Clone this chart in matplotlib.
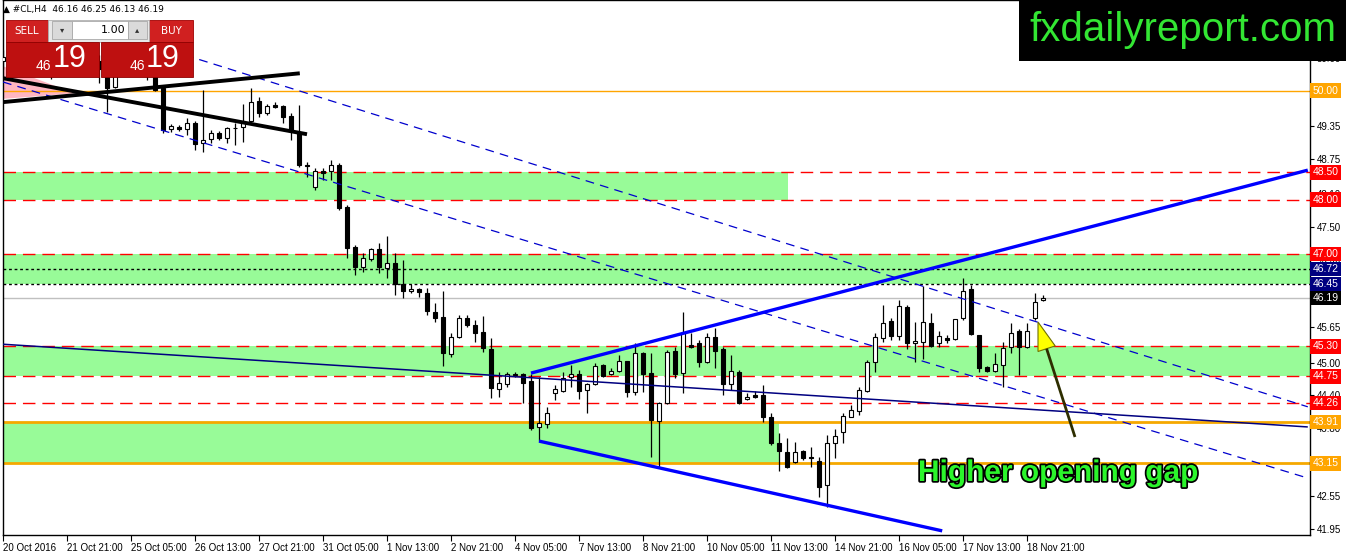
import matplotlib
matplotlib.use("Agg")
import matplotlib.pyplot as plt
from matplotlib.patches import Rectangle, Polygon
import matplotlib.patheffects as pe

# ---------------- data (H4 candles of #CL) ----------------
opens = [50.55, 50.62, 50.70, 50.88, 50.78, 50.62, 50.45, 50.55, 50.72, 50.60,
         50.68, 50.90, 50.55, 50.40, 50.07, 50.38, 50.55, 50.70, 50.48, 50.40,
         50.05, 49.30, 49.33, 49.30, 49.41, 49.04, 49.12, 49.23, 49.13, 49.32,
         49.33, 49.44, 49.81, 49.59, 49.74, 49.72, 49.54, 49.24, 48.64, 48.23,
         48.53, 48.53, 48.64, 47.87, 47.13, 46.76, 46.91, 47.09, 46.74, 46.84,
         46.45, 46.32, 46.36, 46.28, 45.93, 45.84, 45.16, 45.48, 45.82, 45.70,
         45.57, 45.26, 44.52, 44.61, 44.79, 44.80, 44.67, 43.82, 43.88, 44.45,
         44.48, 44.74, 44.80, 44.50, 44.61, 44.96, 44.80, 44.85, 45.03, 44.46,
         45.18, 44.81, 43.93, 44.26, 45.22, 44.81, 45.33, 45.36, 45.02, 45.48,
         45.26, 44.61, 44.83, 44.34, 44.41, 44.41, 44.01, 43.53, 43.36, 43.18,
         43.38, 43.26, 43.20, 42.76, 43.53, 43.73, 44.01, 44.12, 44.48, 45.02,
         45.46, 45.77, 45.49, 46.03, 45.37, 45.38, 45.73, 45.37, 45.46, 45.44,
         45.82, 46.36, 45.51, 44.92, 44.85, 44.96, 45.29, 45.59, 45.29, 45.82,
         46.16]
highs = [50.75, 50.80, 50.95, 51.05, 50.90, 50.70, 50.60, 50.78, 50.85, 50.75,
         50.95, 51.00, 50.65, 50.50, 50.45, 50.65, 50.80, 50.85, 50.60, 50.52,
         50.10, 49.39, 49.37, 49.50, 49.45, 50.02, 49.28, 49.26, 49.34, 49.41,
         49.75, 50.05, 49.89, 49.76, 49.79, 49.74, 49.59, 49.74, 48.69, 48.58,
         48.58, 48.73, 48.67, 47.90, 47.17, 47.02, 47.11, 47.20, 47.33, 47.02,
         46.89, 46.45, 46.38, 46.38, 46.10, 46.32, 45.55, 45.88, 45.88, 45.79,
         45.86, 45.46, 44.83, 44.83, 44.83, 44.81, 44.80, 44.74, 44.19, 44.59,
         44.83, 44.96, 44.87, 44.63, 44.99, 44.98, 44.91, 45.14, 45.04, 45.37,
         45.19, 45.18, 44.27, 45.24, 45.29, 45.94, 45.55, 45.42, 45.55, 45.64,
         45.29, 45.14, 44.87, 44.45, 44.48, 44.59, 44.08, 43.71, 43.62, 43.55,
         43.40, 43.45, 43.27, 43.67, 43.79, 44.08, 44.23, 44.56, 45.05, 45.55,
         46.06, 45.82, 46.16, 46.06, 45.75, 46.41, 45.92, 45.59, 45.51, 45.81,
         46.56, 46.43, 45.51, 44.94, 45.18, 45.38, 45.73, 45.62, 45.73, 46.28,
         46.25]
lows = [50.40, 50.50, 50.60, 50.70, 50.55, 50.35, 50.22, 50.48, 50.55, 50.45,
        50.60, 50.50, 50.15, 49.61, 50.05, 50.30, 50.45, 50.40, 50.20, 50.00,
        49.23, 49.24, 49.26, 49.19, 48.91, 48.88, 49.04, 49.10, 49.04, 49.00,
        49.06, 49.43, 49.52, 49.56, 49.68, 49.41, 49.10, 48.60, 48.42, 48.18,
        48.36, 48.36, 47.81, 46.93, 46.62, 46.67, 46.87, 46.65, 46.56, 46.25,
        46.19, 46.28, 46.21, 45.88, 45.75, 44.94, 45.11, 45.46, 45.66, 45.38,
        45.20, 44.35, 44.37, 44.56, 44.74, 44.26, 43.77, 43.56, 43.80, 44.32,
        44.46, 44.56, 44.34, 44.08, 44.59, 44.74, 44.78, 44.83, 44.37, 44.41,
        44.46, 43.27, 43.09, 44.24, 44.72, 44.45, 45.27, 44.92, 45.00, 44.91,
        44.41, 44.50, 44.24, 44.32, 44.35, 43.91, 43.49, 43.01, 43.07, 43.16,
        43.21, 43.09, 42.53, 42.35, 43.25, 43.53, 44.00, 44.04, 44.46, 44.83,
        45.38, 45.42, 45.42, 45.26, 45.02, 45.07, 45.29, 45.29, 45.37, 45.42,
        45.79, 45.51, 44.83, 44.83, 44.83, 44.56, 45.18, 44.78, 45.27, 45.79,
        46.13]
closes = [50.62, 50.70, 50.88, 50.78, 50.62, 50.45, 50.55, 50.72, 50.60, 50.68,
          50.90, 50.55, 50.40, 50.05, 50.38, 50.55, 50.70, 50.48, 50.40, 50.02,
          49.28, 49.35, 49.30, 49.41, 49.02, 49.10, 49.23, 49.13, 49.32, 49.31,
          49.42, 49.79, 49.59, 49.72, 49.70, 49.52, 49.28, 48.64, 48.62, 48.53,
          48.49, 48.64, 47.85, 47.11, 46.76, 46.93, 47.09, 46.76, 46.84, 46.45,
          46.32, 46.36, 46.30, 45.95, 45.82, 45.18, 45.48, 45.82, 45.70, 45.55,
          45.27, 44.54, 44.63, 44.80, 44.78, 44.63, 43.80, 43.89, 44.08, 44.52,
          44.72, 44.80, 44.48, 44.61, 44.94, 44.76, 44.85, 45.03, 44.46, 45.18,
          44.80, 43.95, 44.26, 45.20, 44.80, 45.55, 45.29, 45.02, 45.48, 45.22,
          44.61, 44.85, 44.26, 44.37, 44.37, 44.01, 43.53, 43.38, 43.09, 43.36,
          43.25, 43.25, 42.72, 43.53, 43.66, 44.02, 44.13, 44.50, 45.02, 45.48,
          45.73, 45.49, 46.05, 45.37, 45.40, 45.75, 45.31, 45.49, 45.42, 45.81,
          46.32, 45.53, 44.91, 44.85, 44.98, 45.27, 45.55, 45.29, 45.59, 46.12,
          46.19]

date_labels = ['20 Oct 2016', '21 Oct 21:00', '25 Oct 05:00', '26 Oct 13:00',
               '27 Oct 21:00', '31 Oct 05:00', '1 Nov 13:00', '2 Nov 21:00',
               '4 Nov 05:00', '7 Nov 13:00', '8 Nov 21:00', '10 Nov 05:00',
               '11 Nov 13:00', '14 Nov 21:00', '16 Nov 05:00', '17 Nov 13:00',
               '18 Nov 21:00']
bars_per_label = 8
price_ticks = [41.95, 42.55, 43.15, 43.80, 44.40, 45.00, 45.65, 46.25,
               46.90, 47.50, 48.10, 48.75, 49.35, 50.00, 50.60]
hidden_tick_labels = [50.00, 43.15]   # fully covered by level labels

# horizontal levels
red_levels = [48.50, 48.00, 47.00, 45.30, 44.75, 44.26]
dotted_levels = [46.72, 46.45]
current_price = 46.19
orange_thin = [50.00]
orange_thick = [43.91, 43.15]
# green zones: (low, high, first bar, last bar or None = to right edge)
zones = [(48.00, 48.50, 0, 98.1), (46.45, 47.00, 0, None),
         (44.75, 45.30, 0, None), (43.15, 43.91, 0, 97.0)]
# price labels on the axis
axis_labels = [(50.00, '#FFA500'), (48.50, '#FF0000'), (48.00, '#FF0000'),
               (47.00, '#FF0000'), (46.72, '#000080'), (46.45, '#000080'),
               (46.19, '#000000'), (45.30, '#FF0000'), (44.75, '#FF0000'),
               (44.26, '#FF0000'), (43.91, '#FFA500'), (43.15, '#FFA500')]

# trend lines as (bar index, price) pairs
dash_line_a = [(12.0, 51.15), (163.1, 44.19)]
dash_line_b = [(0.0, 50.16), (163.1, 42.88)]
solid_line_c = [(0.0, 45.34), (163.1, 43.82)]
channel_up = [(66.0, 44.81), (163.1, 48.54)]
channel_low = [(67.0, 43.56), (117.4, 41.91)]
black_up = [(0.0, 49.79), (37.1, 50.32)]
black_down = [(0.0, 50.23), (38.0, 49.20)]
pink_tri = [(0.0, 50.45), (0.0, 49.85), (9.0, 49.95)]

AXFONT = 'Liberation Sans'

# ---------------- figure ----------------
W, H = 1350, 554
fig = plt.figure(figsize=(W / 100, H / 100), dpi=100)
PX_L, PX_R, PX_T, PX_B = 3, 1310, 0, 535
ax = fig.add_axes([PX_L / W, 1 - PX_B / H, (PX_R - PX_L) / W, (PX_B - PX_T) / H])
ax.set_xlim(0, (PX_R - PX_L) / 8.0)
ax.set_ylim(41.834, 51.667)
ax.set_facecolor('white')

GREEN = '#98FB98'
for lo, hi, x0, x1 in zones:
    if x1 is None:
        ax.axhspan(lo, hi, color=GREEN, lw=0, zorder=0.5)
    else:
        ax.fill_between([x0, x1], lo, hi, color=GREEN, lw=0, zorder=0.5)

ax.add_patch(Polygon(pink_tri, closed=True, fc='#FFB6C1', ec='none', zorder=0.6))

for lv in red_levels:
    ax.axhline(lv, color='#FF0000', lw=1.0, ls=(0, (9, 5)), zorder=1)
for lv in dotted_levels:
    ax.axhline(lv, color='black', lw=1.0, ls=(0, (2, 2)), zorder=1)
ax.axhline(current_price, color='#C0C0C0', lw=1.0, zorder=1)
for lv in orange_thin:
    ax.axhline(lv, color='#FFA500', lw=1.0, zorder=1)
for lv in orange_thick:
    ax.axhline(lv, color='#F5A800', lw=2.0, zorder=1)

# candles
idx = list(range(len(opens)))
ax.vlines(idx, lows, highs, color='black', lw=0.9, zorder=3)
bottoms = [min(o, c) for o, c in zip(opens, closes)]
heights = [max(abs(c - o), 0.004) for o, c in zip(opens, closes)]
faces = ['white' if c >= o else 'black' for o, c in zip(opens, closes)]
ax.bar(idx, heights, bottom=bottoms, width=0.62, color=faces,
       edgecolor='black', linewidth=0.8, zorder=4)

def seg(pts, **kw):
    ax.plot([p[0] for p in pts], [p[1] for p in pts], solid_capstyle='butt', **kw)

seg(dash_line_a, color='#0000CD', lw=0.9, ls=(0, (7, 5)), zorder=5)
seg(dash_line_b, color='#0000CD', lw=0.9, ls=(0, (7, 5)), zorder=5)
seg(solid_line_c, color='#000080', lw=1.1, zorder=5)
seg(channel_up, color='#0000FF', lw=2.4, zorder=5)
seg(channel_low, color='#0000FF', lw=2.4, zorder=5)
seg(black_up, color='black', lw=2.8, zorder=5)
seg(black_down, color='black', lw=2.8, zorder=5)

# axes styling
for s in ax.spines.values():
    s.set_color('black')
    s.set_linewidth(1.0)
ax.yaxis.tick_right()
ax.set_yticks(price_ticks)
ax.set_yticklabels(['' if t in hidden_tick_labels else '%.2f' % t for t in price_ticks],
                   family=AXFONT)
ax.tick_params(axis='y', right=True, left=False, length=3, width=0.8,
               labelsize=7, pad=2, colors='black')
ax.set_xticks([bars_per_label * k for k in range(len(date_labels))])
ax.set_xticklabels(date_labels, family=AXFONT)
for lab in ax.get_xticklabels():
    lab.set_ha('left')
ax.tick_params(axis='x', length=4, width=0.8, labelsize=7, pad=1.5)

for price, col in axis_labels:
    ax.annotate('%.2f' % price, xy=(1.0, price), xycoords=('axes fraction', 'data'),
                xytext=(2.0, 0), textcoords='offset points', ha='left', va='center',
                fontsize=7.5, color='white', annotation_clip=False, zorder=20,
                family=AXFONT,
                bbox=dict(boxstyle='square,pad=0.22', fc=col, ec='none'))

# ---------------- overlay in pixel coordinates ----------------
ov = fig.add_axes([0, 0, 1, 1], zorder=10)
ov.set_xlim(0, W)
ov.set_ylim(H, 0)
ov.axis('off')
ov.patch.set_alpha(0)

# title
ov.text(3, 9, '\u25B2 #CL,H4  46.16 46.25 46.13 46.19', fontsize=6.5,
        va='center', ha='left', color='black')

# one-click trading panel
RED = '#D02020'
DRED = '#BE1010'
ov.add_patch(Rectangle((6, 20), 42, 22, fc=RED, ec='#A00000', lw=0.6))
ov.text(27, 31, 'SELL', color='white', fontsize=7.5, ha='center', va='center')
ov.add_patch(Rectangle((149, 20), 44, 22, fc=RED, ec='#A00000', lw=0.6))
ov.text(171, 31, 'BUY', color='white', fontsize=7.5, ha='center', va='center')
ov.add_patch(Rectangle((48, 20), 101, 22, fc='#E8E8E8', ec='#B0B0B0', lw=0.6))
ov.add_patch(Rectangle((52, 21), 20, 18, fc='#DADADA', ec='#A8A8A8', lw=0.6))
ov.add_patch(Rectangle((72, 21), 56, 18, fc='white', ec='#A8A8A8', lw=0.6))
ov.add_patch(Rectangle((128, 21), 19, 18, fc='#DADADA', ec='#A8A8A8', lw=0.6))
ov.text(62, 30, '\u25BE', fontsize=6, ha='center', va='center', color='#333333')
ov.text(137.5, 30, '\u25B4', fontsize=6, ha='center', va='center', color='#333333')
ov.text(125, 30, '1.00', fontsize=8, ha='right', va='center', color='black')
ov.add_patch(Rectangle((6, 42), 93, 35, fc=DRED, ec='#900000', lw=0.6))
ov.add_patch(Rectangle((101, 42), 92, 35, fc=DRED, ec='#900000', lw=0.6))
for cx_small, cx_big in [(43, 70), (137, 163)]:
    ov.text(cx_small, 66, '46', fontsize=10, ha='center', va='center',
            color='white', family='Liberation Sans')
    ov.text(cx_big, 59, '19', fontsize=22, ha='center', va='center',
            color='white', family='Liberation Sans')

# logo
ov.add_patch(Rectangle((1019, 0), 327, 61, fc='black', ec='none'))
ov.text(1183, 30, 'fxdailyreport.com', fontsize=29, color='#33E633',
        family='Liberation Sans', ha='center', va='center')

# arrow pointing at the gap
tail = (1075, 437)
tip = (1038, 322)
hb = (1046.6, 348.7)
ov.plot([tail[0], hb[0]], [tail[1], hb[1]], color='#2E2E00', lw=2.0,
        solid_capstyle='butt')
ov.add_patch(Polygon([tip, (1055.2, 345.9), (1038.0, 351.5)], closed=True,
                     fc='#FFFF00', ec='#707000', lw=0.8))

ov.text(918, 481, 'Higher opening gap', fontsize=21.5, fontweight='bold',
        family='Liberation Sans', color='#2BF52B',
        ha='left', va='baseline',
        path_effects=[pe.withStroke(linewidth=2.5, foreground='black')])

fig.savefig('out.png', dpi=100)
